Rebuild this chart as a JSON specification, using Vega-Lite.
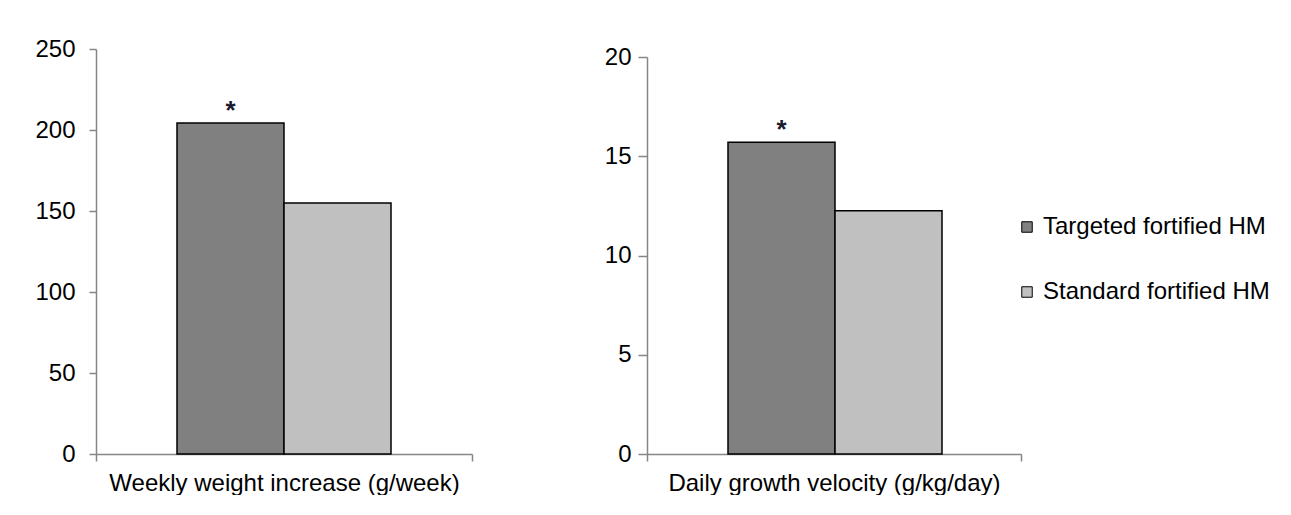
{
  "$schema": "https://vega.github.io/schema/vega-lite/v6.json",
  "padding": {"left": 34, "top": 37, "right": 0, "bottom": 0},
  "background": "white",
  "config": {
    "font": "Liberation Sans",
    "view": {"stroke": null},
    "axis": {"grid": false, "domainColor": "#868686", "tickColor": "#868686", "labelColor": "#000000", "labelFontSize": 24, "labelFont": "Liberation Sans", "domainWidth": 1.5, "tickWidth": 1.5}
  },
  "datasets": {
    "growth": [
      {"measure": "Weekly weight increase (g/week)", "group": "Targeted fortified HM", "order": 1, "value": 204.3, "sig": "*"},
      {"measure": "Weekly weight increase (g/week)", "group": "Standard fortified HM", "order": 2, "value": 155, "sig": ""},
      {"measure": "Daily growth velocity (g/kg/day)", "group": "Targeted fortified HM", "order": 1, "value": 15.7, "sig": "*"},
      {"measure": "Daily growth velocity (g/kg/day)", "group": "Standard fortified HM", "order": 2, "value": 12.25, "sig": ""}
    ]
  },
  "spacing": 131,
  "hconcat": [
    {
      "width": 376,
      "height": 405,
      "data": {"name": "growth"},
      "transform": [{"filter": "datum.measure === 'Weekly weight increase (g/week)'"}],
      "encoding": {
        "x": {"field": "measure", "type": "nominal", "scale": {"paddingInner": 0, "paddingOuter": 0},
              "axis": {"title": null, "labelAngle": 0, "tickBand": "extent", "tickSize": 7, "labelPadding": 10, "labelLimit": 0}},
        "xOffset": {"field": "group", "type": "nominal", "sort": ["Targeted fortified HM", "Standard fortified HM"], "scale": {"paddingInner": 0, "paddingOuter": 0.757}},
        "y": {"field": "value", "type": "quantitative", "scale": {"domain": [0, 250], "nice": false},
              "axis": {"title": null, "values": [0, 50, 100, 150, 200, 250], "tickSize": 7, "labelPadding": 14}}
      },
      "layer": [
        {
          "mark": {"type": "bar", "stroke": "#000000", "strokeWidth": 1.5},
          "encoding": {
            "color": {"field": "group", "type": "nominal",
                      "scale": {"domain": ["Targeted fortified HM", "Standard fortified HM"], "range": ["#808080", "#c0c0c0"]},
                      "legend": {"title": null, "orient": "none", "legendX": 919, "legendY": 166, "symbolType": "square", "symbolSize": 110, "symbolStrokeColor": "#000000", "symbolStrokeWidth": 1, "labelFontSize": 24, "labelColor": "#000000", "labelOffset": 4, "rowPadding": 41, "labelLimit": 0}}
          }
        },
        {
          "mark": {"type": "text", "baseline": "alphabetic", "dy": -4, "fontSize": 26, "fontWeight": "bold", "color": "#1a1a2e"},
          "encoding": {"text": {"field": "sig"}}
        }
      ]
    },
    {
      "width": 374,
      "height": 405,
      "data": {"name": "growth"},
      "transform": [{"filter": "datum.measure === 'Daily growth velocity (g/kg/day)'"}],
      "encoding": {
        "x": {"field": "measure", "type": "nominal", "scale": {"paddingInner": 0, "paddingOuter": 0},
              "axis": {"title": null, "labelAngle": 0, "tickBand": "extent", "tickSize": 7, "labelPadding": 10, "labelLimit": 0}},
        "xOffset": {"field": "group", "type": "nominal", "sort": ["Targeted fortified HM", "Standard fortified HM"], "scale": {"paddingInner": 0, "paddingOuter": 0.757}},
        "y": {"field": "value", "type": "quantitative", "scale": {"domain": [0, 20], "nice": false, "range": [405, 8]},
              "axis": {"title": null, "values": [0, 5, 10, 15, 20], "tickSize": 9, "labelPadding": 7}}
      },
      "layer": [
        {
          "mark": {"type": "bar", "stroke": "#000000", "strokeWidth": 1.5},
          "encoding": {"color": {"field": "group", "type": "nominal"}}
        },
        {
          "mark": {"type": "text", "baseline": "alphabetic", "dy": -4, "fontSize": 26, "fontWeight": "bold", "color": "#1a1a2e"},
          "encoding": {"text": {"field": "sig"}}
        }
      ]
    }
  ]
}
